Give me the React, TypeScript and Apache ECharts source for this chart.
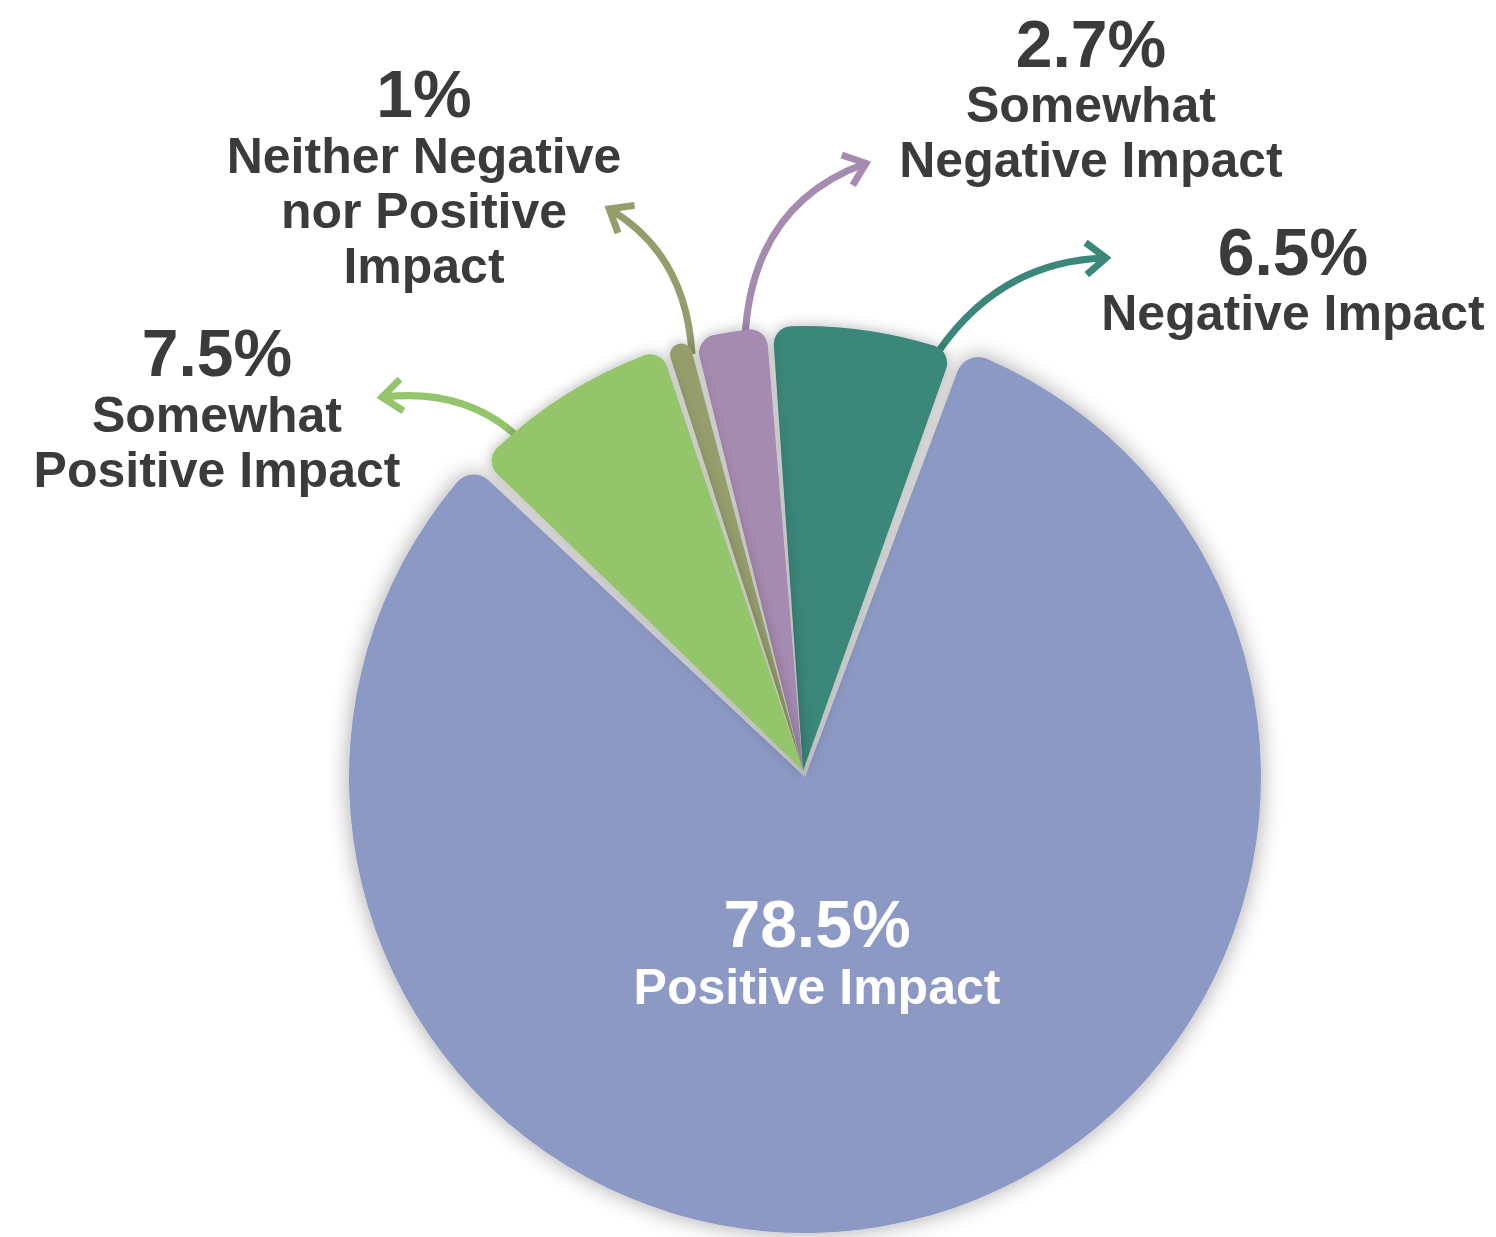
import React, { useEffect, useRef } from "react";
import * as echarts from "echarts";

// ---- data ----
const categories = [
  "Negative Impact",
  "Somewhat Negative Impact",
  "Neither Negative nor Positive Impact",
  "Somewhat Positive Impact",
  "Positive Impact",
];
const values = [6.5, 2.7, 1, 7.5, 78.5];
const labelLines = [
  ["Negative Impact"],
  ["Somewhat", "Negative Impact"],
  ["Neither Negative", "nor Positive", "Impact"],
  ["Somewhat", "Positive Impact"],
  ["Positive Impact"],
];

// ---- styles / layout ----
const colors = ["#3b877a", "#a68bb0", "#969d6c", "#95c56b", "#8c99c4"];
const BIG = 4;
const labelPos = [
  { cx: 1293, pct: 275, body: 330, fill: "#3b3b3b" },
  { cx: 1091, pct: 67, body: 122, fill: "#3b3b3b" },
  { cx: 424, pct: 117, body: 173, fill: "#3b3b3b" },
  { cx: 217, pct: 376, body: 432, fill: "#3b3b3b" },
  { cx: 817, pct: 947, body: 1004, fill: "#ffffff" },
];
const arrows = [
  { p0: [938, 352], cp: [1000, 262], p1: [1104, 258] },
  { p0: [745, 338], cp: [752, 205], p1: [864, 164] },
  { p0: [692, 354], cp: [686, 255], p1: [611, 210] },
  { p0: [519, 438], cp: [466, 388], p1: [384, 397] },
];
const PCT_FS = 66;
const BODY_FS = 50;
const LINE_GAP = 55;
const FONT = '"Liberation Sans", Arial, sans-serif';

function buildGraphics() {
  const g: any[] = [];
  values.forEach((v, i) => {
    const p = labelPos[i];
    g.push({
      type: "text",
      z: 10,
      x: p.cx,
      y: p.pct - 0.35 * PCT_FS,
      style: {
        text: `${v}%`,
        fontSize: PCT_FS,
        fontWeight: "bold",
        fontFamily: FONT,
        fill: p.fill,
        align: "center",
        verticalAlign: "middle",
      },
    });
    labelLines[i].forEach((line, k) => {
      g.push({
        type: "text",
        z: 10,
        x: p.cx,
        y: p.body + k * LINE_GAP - 0.35 * BODY_FS,
        style: {
          text: line,
          fontSize: BODY_FS,
          fontWeight: "bold",
          fontFamily: FONT,
          fill: p.fill,
          align: "center",
          verticalAlign: "middle",
        },
      });
    });
  });
  arrows.forEach((a, i) => {
    const col = colors[i];
    g.push({
      type: "bezierCurve",
      z: 1,
      shape: {
        x1: a.p0[0],
        y1: a.p0[1],
        cpx1: a.cp[0],
        cpy1: a.cp[1],
        x2: a.p1[0],
        y2: a.p1[1],
      },
      style: { stroke: col, lineWidth: 7, fill: "none" },
    });
    const dx = a.p1[0] - a.cp[0];
    const dy = a.p1[1] - a.cp[1];
    const len = Math.sqrt(dx * dx + dy * dy);
    const ux = dx / len;
    const uy = dy / len;
    const L = 24;
    const ang = (42 * Math.PI) / 180;
    const rot = (s: number) => {
      const c = Math.cos(s * ang);
      const sn = Math.sin(s * ang);
      const rx = ux * c - uy * sn;
      const ry = ux * sn + uy * c;
      return [a.p1[0] - L * rx, a.p1[1] - L * ry];
    };
    g.push({
      type: "polyline",
      z: 1,
      shape: { points: [rot(1), [a.p1[0] + ux * 2, a.p1[1] + uy * 2], rot(-1)] },
      style: { stroke: col, lineWidth: 7, fill: "none", lineJoin: "miter" },
    });
  });
  return g;
}

export default function App() {
  const ref = useRef<HTMLDivElement>(null);
  useEffect(() => {
    if (!ref.current) return;
    const chart = echarts.init(ref.current, undefined, { renderer: "svg" });
    const bigData = categories.map((name, i) => ({
      name,
      value: values[i],
      itemStyle:
        i === BIG
          ? {
              color: colors[i],
              borderRadius: 22,
              shadowBlur: 22,
              shadowColor: "rgba(0,0,0,0.35)",
            }
          : { opacity: 0 },
    }));
    const smallData = categories.map((name, i) => ({
      name,
      value: values[i],
      itemStyle:
        i === BIG
          ? { opacity: 0 }
          : {
              color: colors[i],
              borderRadius: 18,
              shadowBlur: 14,
              shadowColor: "rgba(0,0,0,0.3)",
            },
    }));
    chart.setOption({
      animation: false,
      backgroundColor: "#ffffff",
      series: [
        {
          type: "pie",
          silent: true,
          center: [805, 777],
          radius: [0, 456],
          startAngle: 70,
          clockwise: false,
          padAngle: 1.2,
          label: { show: false },
          labelLine: { show: false },
          data: bigData,
          z: 2,
        },
        {
          type: "pie",
          silent: true,
          center: [803, 771],
          radius: [0, 445],
          startAngle: 70,
          clockwise: false,
          padAngle: 0.8,
          label: { show: false },
          labelLine: { show: false },
          data: smallData,
          z: 3,
        },
      ],
      graphic: buildGraphics(),
    });
    return () => chart.dispose();
  }, []);
  return (
    <div
      ref={ref}
      style={{ position: "fixed", left: 0, top: 0, width: 1496, height: 1237 }}
    />
  );
}
